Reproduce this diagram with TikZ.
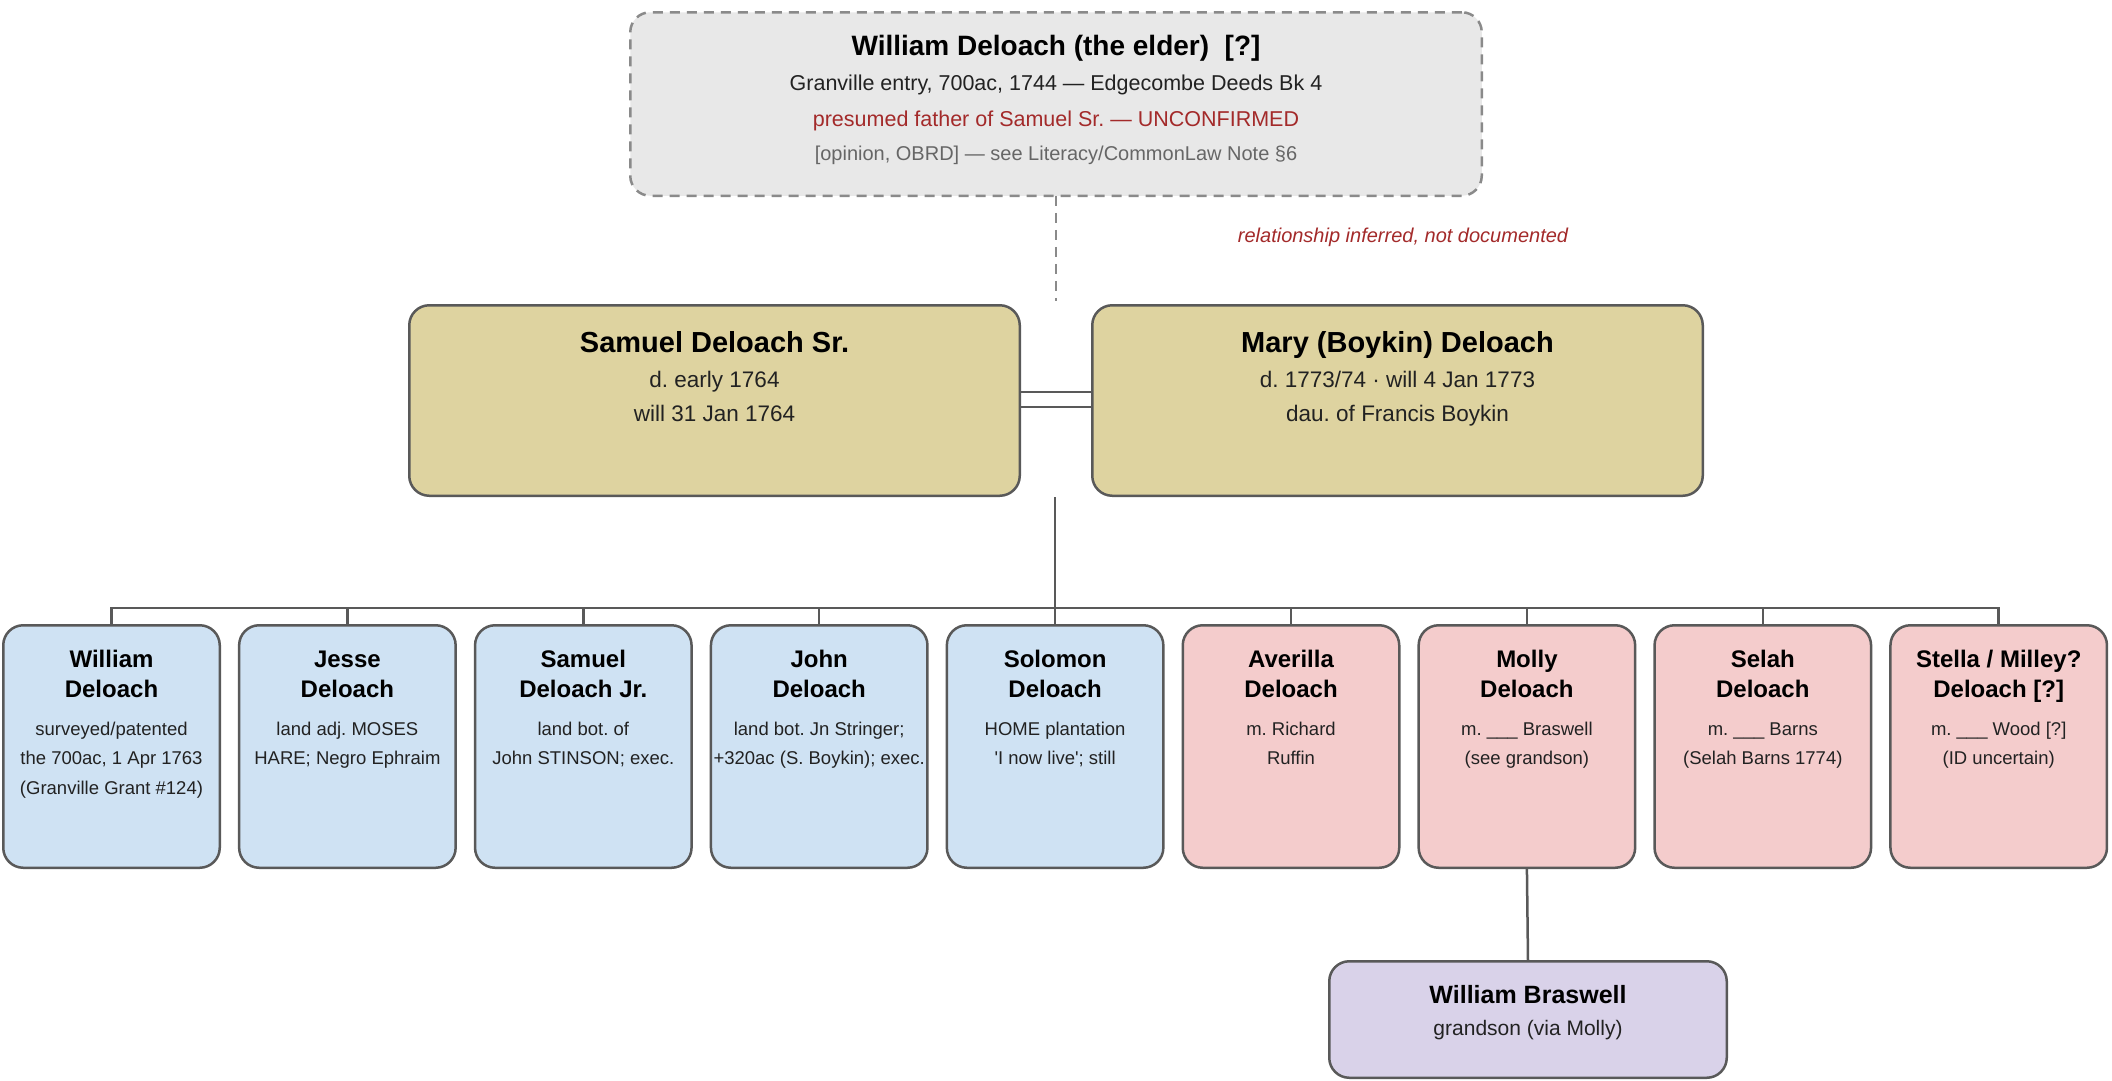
\documentclass[tikz,border=0pt]{standalone}
\usepackage{fontspec}
\setmainfont{Liberation Sans}
\frenchspacing
\definecolor{edge}{HTML}{595959}
\definecolor{topfill}{HTML}{E8E8E8}
\definecolor{dashgray}{HTML}{8A8A8A}
\definecolor{tanfill}{HTML}{DED3A0}
\definecolor{kidblue}{HTML}{CFE2F3}
\definecolor{kidpink}{HTML}{F4CCCC}
\definecolor{gspurple}{HTML}{D9D2E9}
\definecolor{redtxt}{HTML}{A32A2A}
\definecolor{graytxt}{HTML}{666666}
\definecolor{subtxt}{HTML}{222222}
\tikzset{
  box/.style={draw=edge, line width=2.5pt, rounded corners=20pt, inner sep=0pt, outer sep=0pt},
  kidbox/.style={box, minimum width=216.5pt, minimum height=242.5pt},
  parbox/.style={box, fill=tanfill, minimum width=610.5pt, minimum height=190.5pt},
  conn/.style={draw=edge, line width=2.5pt},
  dashline/.style={draw=dashgray, line width=2.5pt, dash pattern=on 10pt off 7pt},
  txt/.style={anchor=base, inner sep=0pt, outer sep=0pt},
  kidttl/.style={txt, font=\bfseries\fontsize{24}{28}\selectfont},
  kidsub/.style={txt, text=subtxt, font=\fontsize{18.5}{22}\selectfont},
  parttl/.style={txt, font=\bfseries\fontsize{29}{34}\selectfont},
  parsub/.style={txt, text=subtxt, font=\fontsize{22.5}{27}\selectfont},
}
\newcommand\mkkid[8]{%
  \node[kidbox,fill=#3] (#1) at ({111.5+235.9*#2},746.5) {};
  \node[kidttl] (#1-t1) at (#1.center |- 0,667) {#4};
  \node[kidttl] (#1-t2) at (#1.center |- 0,697) {#5};
  \node[kidsub] (#1-s1) at (#1.center |- 0,735) {#6};
  \node[kidsub] (#1-s2) at (#1.center |- 0,764) {#7};
  \node[kidsub] (#1-s3) at (#1.center |- 0,794) {#8};
}
\begin{document}
\begin{tikzpicture}[x=1pt,y=-1pt]
\useasboundingbox (0,0) rectangle (2112,1080);

% presumed grandfather
\node[box, fill=topfill, draw=dashgray, dash pattern=on 10pt off 7pt,
      minimum width=851.5pt, minimum height=183.5pt] (elder) at (1056,104) {};
\node[txt, font=\bfseries\fontsize{28}{34}\selectfont] (elder-t) at (1056,55) {William Deloach (the elder)~~[?]};
\node[txt, text=subtxt, font=\fontsize{21.5}{26}\selectfont] (elder-s1) at (1056,90) {Granville entry, 700ac, 1744 — Edgecombe Deeds Bk 4};
\node[txt, text=redtxt, font=\fontsize{21.5}{26}\selectfont] (elder-s2) at (1056,126) {presumed father of Samuel Sr. — UNCONFIRMED};
\node[txt, text=graytxt, font=\fontsize{20}{24}\selectfont] (elder-s3) at (1056,160) {[opinion, OBRD] — see Literacy/CommonLaw Note §6};

\coordinate (elderend) at (1056,301);
\draw[dashline] (elder.south) -- (elderend);
\node[txt, text=redtxt, font=\itshape\fontsize{20}{24}\selectfont] (inferred) at (1403,242) {relationship inferred, not documented};

% parents
\node[parbox] (sam) at (714.5,400.5) {};
\node[parttl] (sam-t) at (sam.center |- 0,352) {Samuel Deloach Sr.};
\node[parsub] (sam-s1) at (sam.center |- 0,387) {d. early 1764};
\node[parsub] (sam-s2) at (sam.center |- 0,421) {will 31 Jan 1764};

\node[parbox] (mary) at (1397.5,400.5) {};
\node[parttl] (mary-t) at (mary.center |- 0,352) {Mary (Boykin) Deloach};
\node[parsub] (mary-s1) at (mary.center |- 0,387) {d. 1773/74 · will 4 Jan 1773};
\node[parsub] (mary-s2) at (mary.center |- 0,421) {dau. of Francis Boykin};

\draw[conn] (sam.east |- 0,392) -- (mary.west |- 0,392);
\draw[conn] (sam.east |- 0,407) -- (mary.west |- 0,407);

% children
\mkkid{k1}{0}{kidblue}{William}{Deloach}{surveyed/patented}{the 700ac, 1 Apr 1763}{(Granville Grant \#124)}
\mkkid{k2}{1}{kidblue}{Jesse}{Deloach}{land adj. MOSES}{HARE; Negro Ephraim}{}
\mkkid{k3}{2}{kidblue}{Samuel}{Deloach Jr.}{land bot. of}{John STINSON; exec.}{}
\mkkid{k4}{3}{kidblue}{John}{Deloach}{land bot. Jn Stringer;}{+320ac (S. Boykin); exec.}{}
\mkkid{k5}{4}{kidblue}{Solomon}{Deloach}{HOME plantation}{\textquotesingle I now live\textquotesingle; still}{}
\mkkid{k6}{5}{kidpink}{Averilla}{Deloach}{m. Richard}{Ruffin}{}
\mkkid{k7}{6}{kidpink}{Molly}{Deloach}{m. \_\_\_ Braswell}{(see grandson)}{}
\mkkid{k8}{7}{kidpink}{Selah}{Deloach}{m. \_\_\_ Barns}{(Selah Barns 1774)}{}
\mkkid{k9}{8}{kidpink}{Stella / Milley?}{Deloach [?]}{m. \_\_\_ Wood [?]}{(ID uncertain)}{}

\coordinate (fam) at (k5.center |- 0,497);
\coordinate (bus) at (k5.center |- 0,608);
\draw[conn] (fam) -- (k5.north);
\draw[conn] (k1.north) |- (bus) -| (k9.north);
\foreach \k in {k2,k3,k4,k6,k7,k8} \draw[conn] (\k.north) -- (\k.north |- bus);

% grandson
\node[box, fill=gspurple, minimum width=397.5pt, minimum height=116.5pt] (gs) at (1528,1019.5) {};
\node[txt, font=\bfseries\fontsize{25}{30}\selectfont] (gs-t) at (gs.center |- 0,1003) {William Braswell};
\node[txt, text=subtxt, font=\fontsize{21}{25}\selectfont] (gs-s) at (gs.center |- 0,1035) {grandson (via Molly)};
\draw[conn] (k7.south) -- (gs.north);
\end{tikzpicture}
\end{document}
